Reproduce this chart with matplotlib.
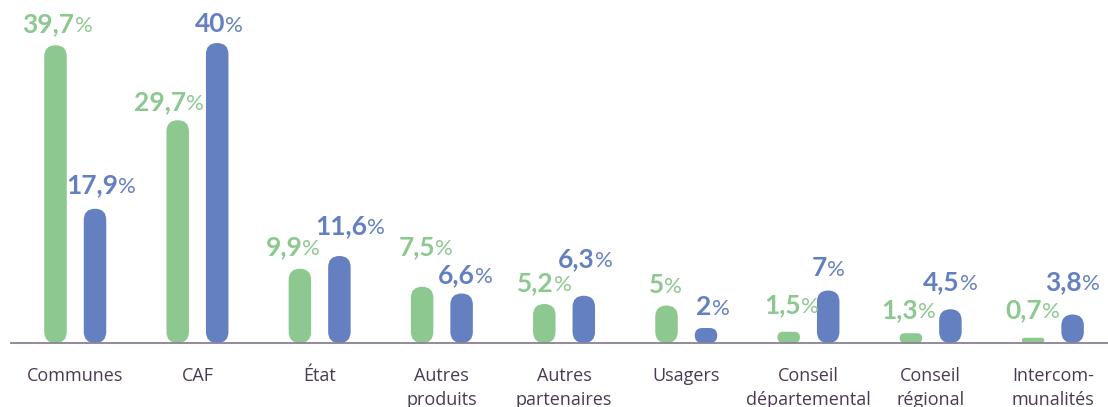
import matplotlib
matplotlib.use("Agg")
import matplotlib.pyplot as plt
from matplotlib.patches import FancyBboxPatch

# ---------------- data ----------------
categories = ["Communes", "CAF", "État", "Autres\nproduits", "Autres\npartenaires",
              "Usagers", "Conseil\ndépartemental", "Conseil\nrégional", "Intercom-\nmunalités"]
green_values = [39.7, 29.7, 9.9, 7.5, 5.2, 5.0, 1.5, 1.3, 0.7]
blue_values = [17.9, 40.0, 11.6, 6.6, 6.3, 2.0, 7.0, 4.5, 3.8]
green_labels = ["39,7", "29,7", "9,9", "7,5", "5,2", "5", "1,5", "1,3", "0,7"]
blue_labels = ["17,9", "40", "11,6", "6,6", "6,3", "2", "7", "4,5", "3,8"]

# ---------------- style / layout ----------------
GREEN = "#8dc891"
BLUE = "#6580c1"
TEXT = "#4b3a55"
AXIS = "#8c8094"

# label offsets in pixels (dx, dy above bar top)
green_off = [(2, 13), (-9, 10), (-7, 14), (4, 32), (0, 13), (-1, 12.5), (3, 19), (-2, 15), (0, 20)]
blue_off = [(6, 16), (1.5, 11), (11, 22), (3.5, 10.5), (1.5, 29), (7, 13), (0, 14.5), (0, 19), (0, 24.5)]

W, H, DPI = 1108, 407, 100
fig = plt.figure(figsize=(W / DPI, H / DPI), dpi=DPI)
fig.patch.set_facecolor("white")

base_px = 64           # axis line from bottom
left_px, right_px = 11, 1108
ax = fig.add_axes([left_px / W, base_px / H, (right_px - left_px) / W, (H - base_px) / H])

px_per_unit_y = 7.5
px_per_unit_x = 122.2
group0_px = 75.25
ax.set_ylim(0, (H - base_px) / px_per_unit_y)
ax.set_xlim((left_px - group0_px) / px_per_unit_x, (right_px - group0_px) / px_per_unit_x)

offset = 19.75 / px_per_unit_x
bar_w_px = 22.5
bar_w = bar_w_px / px_per_unit_x
aspect = px_per_unit_x / px_per_unit_y

for a in ["top", "right", "left"]:
    ax.spines[a].set_visible(False)
ax.spines["bottom"].set_color(AXIS)
ax.spines["bottom"].set_linewidth(1.3)
ax.spines["bottom"].set_zorder(5)
ax.set_xticks([])
ax.set_yticks([])
ax.patch.set_alpha(0)


def pill(xc, v, color):
    h_px = v * px_per_unit_y
    r_px = min(bar_w_px / 2, h_px / 2)
    p = FancyBboxPatch((xc - bar_w / 2, 0), bar_w, v,
                       boxstyle=f"round,pad=0,rounding_size={r_px / px_per_unit_x}",
                       mutation_aspect=aspect, facecolor=color, edgecolor="none", zorder=3)
    ax.add_patch(p)


renderer = fig.canvas.get_renderer()
NUM_FONT = dict(family=["Lato", "DejaVu Sans"], fontsize=19, fontweight="bold", fontstyle="normal")
PCT_FONT = dict(family=["Lato", "DejaVu Sans"], fontsize=16, fontweight="normal", fontstyle="normal")


def value_label(xc, v, txt, color, off):
    dx, dy = off
    t1 = ax.annotate(txt, xy=(xc, v), xytext=(0, 0), textcoords="offset pixels",
                     ha="left", va="baseline", color=color, **NUM_FONT, zorder=6)
    t2 = ax.annotate("%", xy=(xc, v), xytext=(0, 0), textcoords="offset pixels",
                     ha="left", va="baseline", color=color, **PCT_FONT, zorder=6)
    w1 = t1.get_window_extent(renderer).width
    w2 = t2.get_window_extent(renderer).width
    gap = 0
    total = w1 + gap + w2
    x0 = dx - total / 2
    t1.xyann = (x0, dy)
    t2.xyann = (x0 + w1 + gap, dy)


for i, cat in enumerate(categories):
    xg = i - offset
    xb = i + offset
    pill(xg, green_values[i], GREEN)
    pill(xb, blue_values[i], BLUE)
    value_label(xg, green_values[i], green_labels[i], GREEN, green_off[i])
    value_label(xb, blue_values[i], blue_labels[i], BLUE, blue_off[i])
    for j, line in enumerate(cat.split("\n")):
        ax.annotate(line, xy=(i, 0), xytext=(0, -38 - 24 * j), textcoords="offset pixels",
                    ha="center", va="baseline", color=TEXT, fontsize=13,
                    family=["Open Sans", "DejaVu Sans"], annotation_clip=False)

fig.savefig("out.png", dpi=DPI, facecolor="white")
